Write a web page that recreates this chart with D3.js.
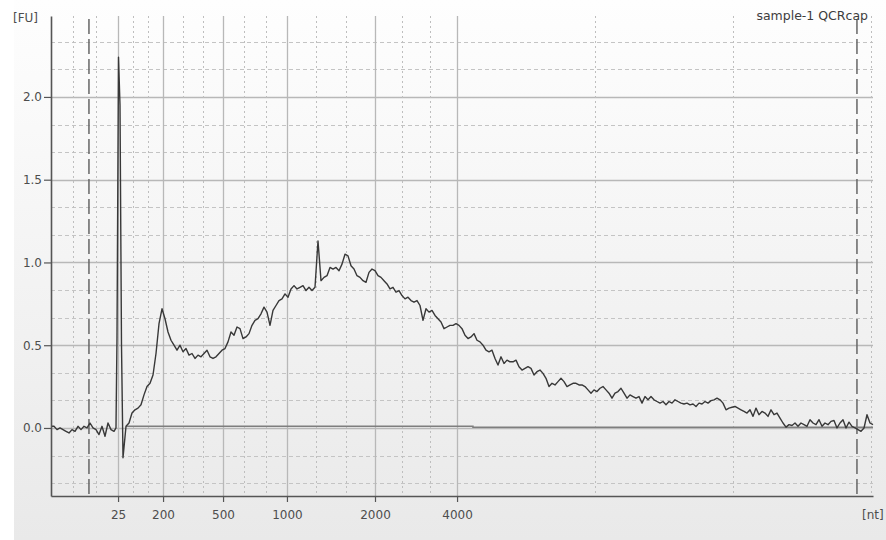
<!DOCTYPE html>
<html><head><meta charset="utf-8">
<script src="https://cdn.jsdelivr.net/npm/d3@7"></script>
<style>html,body{margin:0;padding:0;background:#fff;} svg{display:block;font-family:"DejaVu Sans",Verdana,sans-serif;}</style>
</head><body><svg id="chart" width="886" height="540"></svg>
<script>
// ---------- data ----------
const chartTitle = "sample-1 QCRcap";
const yUnit = "[FU]";
const xUnit = "[nt]";
const yTickValues = [0, 0.5, 1.0, 1.5, 2.0];
const xTickLabels = ["25", "200", "500", "1000", "2000", "4000"];
const xTickTimes = [23.47, 26.47, 30.47, 34.73, 40.6, 46.07];     // migration time (s) of ladder sizes
const gridBreakTimes = [19, 23.47, 26.47, 30.47, 34.73, 40.6, 46.07, 73.67];
const markerTimes = [21.53, 72.73];                               // lower / upper marker
const timeDomain = [19, 73.8];
const fuDomain = [-0.411, 2.489];
const traceStart = 19.0, traceStep = 0.2;
const traceFU = [
  0.01,0.01,-0.01,0.00,-0.01,-0.02,-0.03,-0.01,-0.02,0.01,
  -0.01,0.01,0.00,0.03,0.00,-0.01,-0.04,0.01,-0.05,0.03,
  -0.01,-0.02,
  0.55,1.95,-0.18,
  0.01,0.03,0.09,0.11,0.12,0.14,0.20,0.25,0.27,0.32,
  0.45,0.63,0.72,0.66,0.58,0.53,0.50,0.47,0.50,0.46,
  0.48,0.44,0.45,0.42,0.44,0.43,0.45,0.47,0.43,0.42,
  0.43,0.45,0.47,0.48,0.52,0.58,0.56,0.61,0.60,0.54,
  0.55,0.57,
  0.62,0.65,0.66,0.69,0.73,0.70,0.62,0.71,0.74,0.77,
  0.78,0.81,0.79,0.84,0.86,0.84,0.85,0.86,0.83,0.85,
  0.83,0.85,1.13,0.89,0.91,0.92,0.97,0.96,0.97,0.95,
  0.99,1.05,1.04,0.98,0.96,0.92,0.91,0.89,0.88,0.94,
  0.96,0.95,0.92,0.91,0.89,0.87,0.84,0.85,0.82,0.83,
  0.80,0.78,0.79,0.77,0.76,0.77,0.74,0.65,0.72,0.70,
  0.71,0.68,0.66,0.64,0.60,0.61,0.62,0.62,0.63,
  0.62,0.60,0.56,0.54,0.55,0.57,0.53,0.52,0.50,0.47,
  0.46,0.47,0.42,0.38,0.43,0.39,0.41,0.40,0.40,0.41,
  0.37,0.35,0.36,0.37,0.36,0.32,0.34,0.35,0.33,0.30,
  0.25,0.27,0.26,0.28,0.30,0.28,0.25,0.26,0.27,0.27,
  0.26,0.26,0.25,0.23,0.21,0.23,0.22,0.24,0.25,0.23,
  0.21,0.18,0.21,0.22,0.24,0.21,0.18,0.20,0.19,0.18,
  0.19,0.15,0.19,0.17,0.19,0.17,0.16,0.15,0.16,0.14,
  0.16,
  0.15,0.17,0.16,0.15,0.145,0.15,0.14,0.145,0.13,0.15,
  0.145,0.16,0.15,0.165,0.17,0.18,0.17,0.15,0.11,0.12,
  0.125,0.13,0.12,0.11,0.10,0.09,0.11,0.07,0.12,0.08,
  0.10,0.09,0.07,0.11,0.08,0.09,0.06,0.03,0.005,0.02,
  0.015,0.03,0.01,0.03,0.02,0.01,0.05,0.03,0.02,0.05,
  0.01,0.03,0.02,0.04,0.045,0.00,0.03,0.05,0.00,0.035,
  0.01,0.00,-0.01,-0.02,0.00,0.08,0.03,0.02
];
const spikeTimes = [23.333, 23.5, 23.7];
const spikeFU = [0.0, 2.24, 0.5];
const baselineTimes = [24.0, 47.13, 47.13, 73.8];
const baselineFU = [0.01, 0.01, 0.004, 0.004];

// ---------- layout ----------
const W = 886, H = 540;
const M = {left: 51, right: 13, top: 16, bottom: 44};
const svg = d3.select("#chart");

const defs = svg.append("defs");
const grad = defs.append("linearGradient").attr("id", "bg").attr("x1", 0).attr("y1", 0).attr("x2", 0).attr("y2", 1);
grad.append("stop").attr("offset", "0%").attr("stop-color", "#fefefe");
grad.append("stop").attr("offset", "100%").attr("stop-color", "#e9e9e9");
svg.append("rect").attr("x", 14).attr("y", 0).attr("width", W - 14).attr("height", H).attr("fill", "url(#bg)");

const x = d3.scaleLinear().domain(timeDomain).range([M.left, W - M.right]);
const y = d3.scaleLinear().domain(fuDomain).range([H - M.bottom, M.top]);
const x0 = x.range()[0], x1 = x.range()[1], yTop = y.range()[1], yBot = y.range()[0];

// horizontal grid
const grid = svg.append("g");
const minorY = d3.range(-2, 15).filter(k => k % 3 !== 0).map(k => k / 6);
grid.selectAll(".hmin").data(minorY).join("line")
  .attr("x1", x0).attr("x2", x1).attr("y1", d => Math.round(y(d)) + 0.5).attr("y2", d => Math.round(y(d)) + 0.5)
  .attr("stroke", "#c4c4c4").attr("stroke-width", 1).attr("stroke-dasharray", "4,3");
grid.selectAll(".hmaj").data(yTickValues).join("line")
  .attr("x1", x0).attr("x2", x1).attr("y1", d => Math.round(y(d)) + 0.5).attr("y2", d => Math.round(y(d)) + 0.5)
  .attr("stroke", "#b8b8b8").attr("stroke-width", 1.3);

// vertical grid
const minorX = [];
for (let i = 0; i < gridBreakTimes.length - 1; i++) {
  const a = gridBreakTimes[i], b = gridBreakTimes[i + 1];
  minorX.push(a + (b - a) / 3, a + 2 * (b - a) / 3);
}
minorX.push(gridBreakTimes[gridBreakTimes.length - 1]);
grid.selectAll(".vmin").data(minorX).join("line")
  .attr("x1", d => Math.round(x(d)) + 0.5).attr("x2", d => Math.round(x(d)) + 0.5).attr("y1", yTop).attr("y2", yBot)
  .attr("stroke", "#bebebe").attr("stroke-width", 1).attr("stroke-dasharray", "2,3");
grid.selectAll(".vmaj").data(xTickTimes).join("line")
  .attr("x1", d => Math.round(x(d)) + 0.5).attr("x2", d => Math.round(x(d)) + 0.5).attr("y1", yTop).attr("y2", yBot)
  .attr("stroke", "#b8b8b8").attr("stroke-width", 1.3);

// markers (long dashes)
svg.append("g").selectAll("line").data(markerTimes).join("line")
  .attr("x1", d => x(d)).attr("x2", d => x(d)).attr("y1", yTop + 3).attr("y2", yBot)
  .attr("stroke", "#666").attr("stroke-width", 1.5).attr("stroke-dasharray", "15,5");

// baseline
const baseline = baselineTimes.map((t, i) => [t, baselineFU[i]]);
svg.append("path").datum(baseline)
  .attr("d", d3.line().x(d => x(d[0])).y(d => y(d[1])))
  .attr("fill", "none").attr("stroke", "#7e7e7e").attr("stroke-width", 1.5);

// trace
const trace = traceFU.map((v, i) => [traceStart + i * traceStep, v])
  .concat(spikeTimes.map((t, i) => [t, spikeFU[i]]))
  .sort((a, b) => a[0] - b[0]);
svg.append("path").datum(trace)
  .attr("d", d3.line().x(d => x(d[0])).y(d => y(d[1])))
  .attr("fill", "none").attr("stroke", "#383838").attr("stroke-width", 1.4).attr("stroke-linejoin", "round");

// axes
const textColor = "#4d4d4d";
const yAxis = svg.append("g").attr("transform", `translate(${x0},0)`)
  .call(d3.axisLeft(y).tickValues(yTickValues).tickFormat(d3.format(".1f")).tickSize(7).tickSizeOuter(0).tickPadding(2));
const xAxis = svg.append("g").attr("transform", `translate(0,${yBot})`)
  .call(d3.axisBottom(x).tickValues(xTickTimes).tickFormat((d, i) => xTickLabels[i]).tickSize(6).tickSizeOuter(0).tickPadding(8));
[yAxis, xAxis].forEach(g => {
  g.select(".domain").attr("stroke", "#555").attr("stroke-width", 1.6);
  g.selectAll(".tick line").attr("stroke", "#555").attr("stroke-width", 1.2);
  g.selectAll(".tick text").attr("fill", textColor).style("font-size", "12px").style("font-family", '"DejaVu Sans",Verdana,sans-serif');
});

// labels
svg.append("text").attr("x", 13).attr("y", 22).text(yUnit).attr("fill", textColor).style("font-size", "12px");
svg.append("text").attr("x", 862).attr("y", 519).text(xUnit).attr("fill", textColor).style("font-size", "12px");
svg.append("text").attr("x", 868).attr("y", 20).attr("text-anchor", "end").text(chartTitle).attr("fill", "#3d3d3d").style("font-size", "12.5px");
</script></body></html>
